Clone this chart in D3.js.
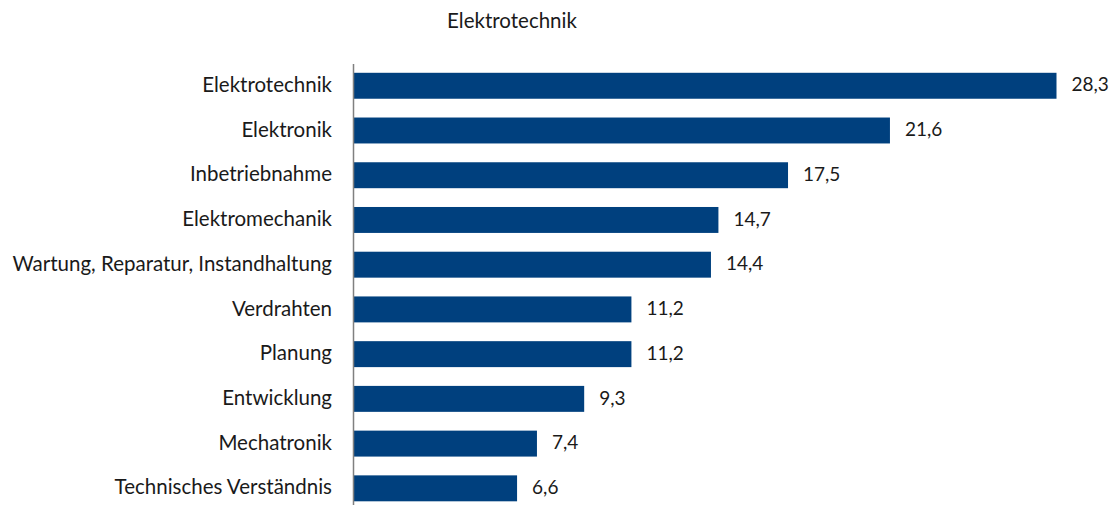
<!DOCTYPE html>
<html>
<head>
<meta charset="utf-8">
<script src="https://cdn.jsdelivr.net/npm/d3@7"></script>
<style>
  body { margin: 0; background: #fff; }
  text { font-family: Lato, "Noto Sans", sans-serif; fill: #1a1a1a; }
</style>
</head>
<body>
<div id="container"></div>
<script>
    // Data
    const categories = ["Elektrotechnik", "Elektronik", "Inbetriebnahme", "Elektromechanik",
        "Wartung, Reparatur, Instandhaltung", "Verdrahten", "Planung", "Entwicklung",
        "Mechatronik", "Technisches Verständnis"];
    const values = [28.3, 21.6, 17.5, 14.7, 14.4, 11.2, 11.2, 9.3, 7.4, 6.6];
    const chartTitle = "Elektrotechnik";

    const width = 1113, height = 505;
    const plotLeft = 353, plotTop = 63.4, plotBottom = 510.7;

    const svg = d3.select("#container")
                    .append("svg")
                    .attr("width", width)
                    .attr("height", height);

    // Title
    svg.append("text")
        .attr("x", 512)
        .attr("y", 28)
        .attr("text-anchor", "middle")
        .attr("font-size", "20.5px")
        .text(chartTitle);

    // Scales
    const x = d3.scaleLinear().domain([0, 28.3]).range([plotLeft, 1056.5]);
    const y = d3.scaleBand().domain(categories).range([plotTop, plotBottom]).paddingInner(0.42).paddingOuter(0.21);

    // Bars
    svg.selectAll(".bar")
        .data(values)
        .enter()
        .append("rect")
        .attr("class", "bar")
        .attr("x", x(0) + 1)
        .attr("y", (d, i) => y(categories[i]))
        .attr("width", d => x(d) - x(0) - 1)
        .attr("height", y.bandwidth())
        .attr("fill", "#00407e");

    // Value labels
    svg.selectAll(".val")
        .data(values)
        .enter()
        .append("text")
        .attr("class", "val")
        .attr("x", d => x(d) + 15)
        .attr("y", (d, i) => y(categories[i]) + y.bandwidth() / 2)
        .attr("dy", "0.3em")
        .attr("font-size", "19px")
        .text(d => d3.format(".1f")(d).replace(".", ","));

    // Y axis
    const axis = svg.append("g")
        .attr("transform", "translate(" + plotLeft + ",0)")
        .call(d3.axisLeft(y).tickSize(0).tickPadding(21));
    axis.select(".domain").attr("stroke", "#808080").attr("stroke-width", 1.5);
    axis.selectAll("text")
        .attr("dy", "0.3em")
        .attr("font-size", "20.5px")
        .attr("font-family", "Lato, 'Noto Sans', sans-serif")
        .attr("fill", "#1a1a1a");
</script>
</body>
</html>
